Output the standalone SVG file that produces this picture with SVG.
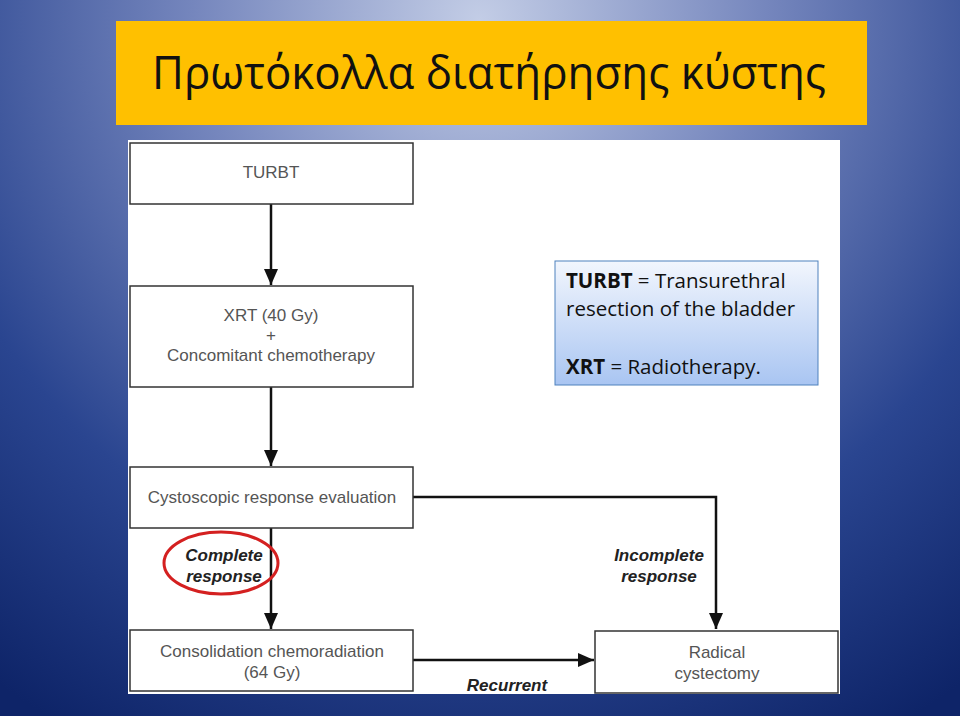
<svg xmlns="http://www.w3.org/2000/svg" width="960" height="716" viewBox="0 0 960 716">
<defs>
<radialGradient id="bg" cx="480" cy="20" r="820" gradientUnits="userSpaceOnUse">
<stop offset="0" stop-color="#c3cde6"/>
<stop offset="0.35" stop-color="#7586bd"/>
<stop offset="0.7" stop-color="#2a4590"/>
<stop offset="1" stop-color="#0e2468"/>
</radialGradient>
<linearGradient id="leg" x1="0" y1="0" x2="0" y2="1">
<stop offset="0" stop-color="#f2f6fd"/>
<stop offset="1" stop-color="#a9c5f2"/>
</linearGradient>
<marker id="ah" viewBox="0 0 10 10" refX="10" refY="5" markerWidth="16" markerHeight="14" markerUnits="userSpaceOnUse" orient="auto" preserveAspectRatio="none">
<path d="M0,0 L10,5 L0,10 Z" fill="#111"/>
</marker>
<style>
.box{fill:#fff;stroke:#333;stroke-width:1.5}
.t{font-family:"Liberation Sans",Arial,sans-serif;font-size:17px;fill:#555;text-anchor:middle}
.lab{font-family:"Liberation Sans",Arial,sans-serif;font-size:17px;font-weight:bold;font-style:italic;fill:#222;text-anchor:middle}
.c{fill:none;stroke:#111;stroke-width:2.5}
.lg{font-family:"Open Sans","Liberation Sans",sans-serif;font-size:20.5px;fill:#111}
</style>
</defs>
<rect x="0" y="0" width="960" height="716" fill="url(#bg)"/>
<g id="title">
<rect x="116" y="21" width="751" height="104" fill="#ffc000"/>
<text x="489" y="89" text-anchor="middle" textLength="674" lengthAdjust="spacingAndGlyphs" font-family="'Open Sans','Liberation Sans',sans-serif" font-size="45" fill="#111">Πρωτόκολλα διατήρησης κύστης</text>
</g>
<rect x="128" y="140" width="712" height="554" fill="#fff"/>
<g id="connectors">
<line class="c" x1="271" y1="204" x2="271" y2="285" marker-end="url(#ah)"/>
<line class="c" x1="271" y1="387" x2="271" y2="466" marker-end="url(#ah)"/>
<line class="c" x1="271" y1="528" x2="271" y2="629" marker-end="url(#ah)"/>
<polyline class="c" points="413,497 716,497 716,629" marker-end="url(#ah)"/>
<line class="c" x1="413" y1="660" x2="594" y2="660" marker-end="url(#ah)"/>
</g>
<g id="turbt">
<rect class="box" x="130" y="143" width="283" height="61"/>
<text class="t" x="271" y="178">TURBT</text>
</g>
<g id="xrt">
<rect class="box" x="130" y="286" width="283" height="101"/>
<text class="t" x="271" y="321">XRT (40 Gy)</text>
<text class="t" x="271" y="341">+</text>
<text class="t" x="271" y="361">Concomitant chemotherapy</text>
</g>
<g id="cysto">
<rect class="box" x="130" y="467" width="283" height="61"/>
<text class="t" x="272" y="503">Cystoscopic response evaluation</text>
</g>
<g id="consol">
<rect class="box" x="130" y="630" width="283" height="61"/>
<text class="t" x="272" y="657">Consolidation chemoradiation</text>
<text class="t" x="272" y="678">(64 Gy)</text>
</g>
<g id="radical">
<rect class="box" x="595" y="631" width="243" height="62"/>
<text class="t" x="717" y="658">Radical</text>
<text class="t" x="717" y="679">cystectomy</text>
</g>
<g id="labels">
<text class="lab" x="224" y="561">Complete</text>
<text class="lab" x="224" y="582">response</text>
<ellipse cx="221" cy="563" rx="57" ry="31" fill="none" stroke="#d42020" stroke-width="3"/>
<text class="lab" x="659" y="561">Incomplete</text>
<text class="lab" x="659" y="582">response</text>
<text class="lab" x="507" y="691">Recurrent</text>
</g>
<g id="legend">
<rect x="555" y="261" width="263" height="124" fill="url(#leg)" stroke="#4f81bd" stroke-width="1"/>
<text class="lg" x="566" y="288"><tspan font-weight="bold">TURBT</tspan> = Transurethral</text>
<text class="lg" x="566" y="316">resection of the bladder</text>
<text class="lg" x="566" y="374"><tspan font-weight="bold">XRT</tspan> = Radiotherapy.</text>
</g>
</svg>
